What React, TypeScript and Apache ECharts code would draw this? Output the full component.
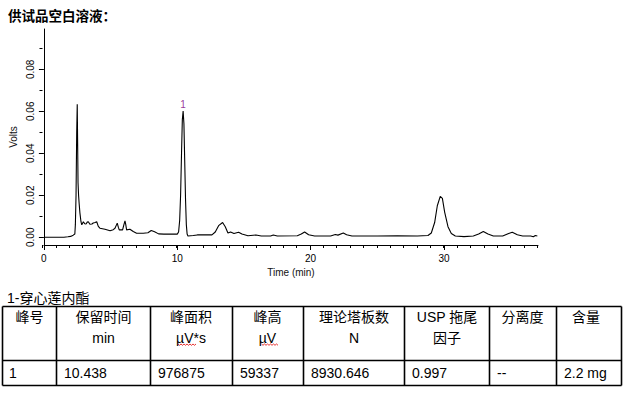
import React, { useEffect, useRef } from "react";
import * as echarts from "echarts";

const chartTitle = "供试品空白溶液：";
const compoundName = "1-穿心莲内酯";

const timeMin = [
  0, 1.5, 1.8, 2.0, 2.2, 2.32, 2.36, 2.41, 2.46, 2.5, 2.53, 2.56, 2.6, 2.64, 2.7, 2.78, 2.84, 2.96, 3.06, 3.16,
  3.25, 3.33, 3.45, 3.6, 3.7, 3.84, 3.96, 4.08, 4.2, 4.58, 4.96, 5.2, 5.33, 5.45, 5.5, 5.58, 5.65, 5.9, 6.0, 6.08,
  6.14, 6.2, 6.45, 6.7, 6.95, 7.45, 7.8, 8.05, 8.3, 8.6, 9.0, 9.5, 10.0, 10.1, 10.18, 10.25, 10.32, 10.38, 10.44,
  10.5, 10.56, 10.62, 10.68, 10.74, 10.8, 11.2, 11.5, 12.0, 12.6, 12.85, 13.1, 13.4, 13.6, 13.8, 14.0, 14.25,
  14.6, 14.85, 15.3, 15.9, 16.3, 17.0, 17.2, 17.5, 19.0, 19.3, 19.55, 19.85, 20.3, 21.5, 21.85, 22.05, 22.45,
  22.7, 23.1, 25.0, 26.5, 28.0, 28.8, 29.05, 29.3, 29.5, 29.72, 29.88, 30.05, 30.3, 30.55, 30.85, 31.5, 32.2,
  32.6, 32.95, 33.3, 33.7, 34.4, 34.85, 35.12, 35.5, 35.9, 36.5, 36.7, 36.85, 37.0,
];
const volts = [
  0, 0, 0.0002, 0.0004, 0.001, 0.0015, 0.006, 0.02, 0.05, 0.0633, 0.045, 0.026, 0.02, 0.0163, 0.0116, 0.0074,
  0.0059, 0.0074, 0.0064, 0.0063, 0.0072, 0.0074, 0.0062, 0.0063, 0.0068, 0.007, 0.0074, 0.0052, 0.0043, 0.0038,
  0.0031, 0.0036, 0.0043, 0.006, 0.0067, 0.0048, 0.0035, 0.0035, 0.006, 0.0078, 0.006, 0.0035, 0.0038, 0.0027,
  0.0019, 0.0019, 0.0021, 0.0032, 0.0026, 0.0016, 0.0015, 0.0015, 0.0015, 0.0025, 0.008, 0.02, 0.04, 0.056,
  0.0601, 0.054, 0.036, 0.018, 0.006, 0.0015, 0.0006, 0.0008, 0.0011, 0.0011, 0.0011, 0.0025, 0.0055, 0.007,
  0.005, 0.002, 0.0025, 0.0018, 0.0024, 0.0015, 0.0007, 0.0011, 0.0006, 0.0006, 0.0011, 0.0006, 0.0007, 0.0015,
  0.0025, 0.0012, 0.0006, 0.0006, 0.0013, 0.001, 0.002, 0.0012, 0.0006, 0.0006, 0.0007, 0.0006, 0.0008, 0.002,
  0.007, 0.015, 0.0195, 0.0185, 0.012, 0.005, 0.0018, 0.0006, 0.0003, 0.0006, 0.0015, 0.0027, 0.0015, 0.0006,
  0.0006, 0.0018, 0.0024, 0.0012, 0.0006, 0.0006, 0.0002, 0.0008, 0.0006,
];

const peakLabels = ["1"];
const peakTimes = [10.438];
const peakHeights = [0.0601];

const xMajorTicks = [0, 10, 20, 30];
const yMajorTicks = [0, 0.02, 0.04, 0.06, 0.08];
const yMinorTicks = [0.01, 0.03, 0.05, 0.07, 0.09];

const headerLine1 = ["峰号", "保留时间", "峰面积", "峰高", "理论塔板数", "USP 拖尾", "分离度", "含量"];
const headerLine2 = ["", "min", "µV*s", "µV", "N", "因子", "", ""];
const rowValues = ["1", "10.438", "976875", "59337", "8930.646", "0.997", "--", "2.2 mg"];

const X_MIN = 0;
const X_MAX = 37.05;
const Y_MIN = -0.0037;
const Y_MAX = 0.0992;

const LATIN = "'Liberation Sans', Arial, 'Noto Sans CJK SC', sans-serif";

export default function App() {
  const ref = useRef<HTMLDivElement>(null);

  useEffect(() => {
    if (!ref.current) return;
    const chart = echarts.init(ref.current, undefined, { renderer: "svg" });

    const xMinorTicks: number[] = [];
    for (let t = 0; t <= 37; t++) xMinorTicks.push(t);

    const colX = [2.5, 56.5, 150.5, 232.5, 303.5, 404.5, 489.5, 556.5, 621.5];
    const tTop = 306.5;
    const tMid = 360.5;
    const tBot = 385.5;
    const lineStyle = { stroke: "#000", lineWidth: 1.6 };
    const graphics: any[] = [];

    graphics.push({
      type: "text",
      style: {
        text: chartTitle,
        x: 8,
        y: 15,
        font: "bold 13.5px 'Noto Sans CJK SC', sans-serif",
        fill: "#000",
        verticalAlign: "middle",
        textVerticalAlign: "middle",
      },
    });
    graphics.push({
      type: "text",
      style: {
        text: compoundName,
        x: 7,
        y: 298,
        font: `14px ${LATIN}`,
        fill: "#000",
        verticalAlign: "middle",
        textVerticalAlign: "middle",
      },
    });
    [tTop, tMid, tBot].forEach((y) =>
      graphics.push({ type: "line", shape: { x1: colX[0], y1: y, x2: colX[colX.length - 1], y2: y }, style: lineStyle })
    );
    colX.forEach((x) =>
      graphics.push({ type: "line", shape: { x1: x, y1: tTop, x2: x, y2: tBot }, style: lineStyle })
    );
    const headerCenters = [29.5, 103.5, 191, 267.5, 354, 447, 522.5, 586];
    headerLine1.forEach((txt, i) => {
      graphics.push({
        type: "text",
        style: {
          text: txt,
          x: headerCenters[i],
          y: 317,
          font: `14px ${LATIN}`,
          fill: "#000",
          align: "center",
          textAlign: "center",
          verticalAlign: "middle",
          textVerticalAlign: "middle",
        },
      });
      if (headerLine2[i]) {
        graphics.push({
          type: "text",
          style: {
            text: headerLine2[i],
            x: headerCenters[i],
            y: 338,
            font: `14px ${LATIN}`,
            fill: "#000",
            align: "center",
            textAlign: "center",
            verticalAlign: "middle",
            textVerticalAlign: "middle",
          },
        });
      }
    });
    rowValues.forEach((txt, i) => {
      graphics.push({
        type: "text",
        style: {
          text: txt,
          x: colX[i] + (i === 0 ? 6.5 : 7.5),
          y: 372.5,
          font: `14px ${LATIN}`,
          fill: "#000",
          verticalAlign: "middle",
          textVerticalAlign: "middle",
        },
      });
    });
    // spell-check squiggles under unit texts
    const squiggle = (x0: number, x1: number, y: number) => {
      const pts: number[][] = [];
      let k = 0;
      for (let x = x0; x <= x1; x += 1.5, k++) pts.push([x, y + (k % 2 === 0 ? 0 : 1.3)]);
      return { type: "polyline", shape: { points: pts }, style: { stroke: "#e00000", lineWidth: 0.8, fill: null } };
    };
    graphics.push(squiggle(178, 197, 344));
    graphics.push(squiggle(261.5, 278.5, 344));

    const gridPos = { left: 42.5, right: 90, top: 29, bottom: 150 };

    chart.setOption({
      animation: false,
      backgroundColor: "#fff",
      grid: [
        { ...gridPos, containLabel: false },
        { ...gridPos, containLabel: false },
      ],
      xAxis: [
        {
          type: "value",
          gridIndex: 0,
          min: X_MIN,
          max: X_MAX,
          axisLine: { show: true, onZero: false, lineStyle: { color: "#000", width: 1 } },
          axisTick: { show: true, customValues: xMajorTicks, length: 5, lineStyle: { color: "#000", width: 1 } },
          axisLabel: {
            customValues: xMajorTicks,
            fontSize: 10,
            color: "#000",
            margin: 8,
            fontFamily: "'Liberation Sans', Arial, sans-serif",
          },
          splitLine: { show: false },
          name: "Time (min)",
          nameLocation: "middle",
          nameGap: 22,
          nameTextStyle: { fontSize: 10, color: "#111", fontFamily: "'Liberation Sans', Arial, sans-serif" },
        },
        {
          type: "value",
          gridIndex: 1,
          min: X_MIN,
          max: X_MAX,
          axisLine: { show: false, onZero: false },
          axisTick: { show: true, customValues: xMinorTicks, length: 3, lineStyle: { color: "#000", width: 1 } },
          axisLabel: { show: false },
          splitLine: { show: false },
        },
      ],
      yAxis: [
        {
          type: "value",
          gridIndex: 0,
          min: Y_MIN,
          max: Y_MAX,
          axisLine: { show: true, onZero: false, lineStyle: { color: "#000", width: 1 } },
          axisTick: { show: true, customValues: yMajorTicks, length: 5, lineStyle: { color: "#000", width: 1 } },
          axisLabel: {
            customValues: yMajorTicks,
            rotate: 90,
            fontSize: 10,
            color: "#000",
            margin: 8,
            fontFamily: "'Liberation Sans', Arial, sans-serif",
            formatter: (v: number) => v.toFixed(2),
          },
          splitLine: { show: false },
          name: "Volts",
          nameLocation: "middle",
          nameRotate: 90,
          nameGap: 22,
          nameTextStyle: { fontSize: 10, color: "#111", fontFamily: "'Liberation Sans', Arial, sans-serif" },
        },
        {
          type: "value",
          gridIndex: 1,
          min: Y_MIN,
          max: Y_MAX,
          axisLine: { show: false, onZero: false },
          axisTick: { show: true, customValues: yMinorTicks, length: 3, lineStyle: { color: "#000", width: 1 } },
          axisLabel: { show: false },
          splitLine: { show: false },
        },
      ],
      series: [
        {
          type: "line",
          xAxisIndex: 0,
          yAxisIndex: 0,
          data: timeMin.map((t, i) => [t, volts[i]]),
          showSymbol: false,
          symbol: "none",
          lineStyle: { color: "#000", width: 1.1 },
          silent: true,
        },
        {
          type: "scatter",
          xAxisIndex: 0,
          yAxisIndex: 0,
          symbolSize: 0,
          data: peakTimes.map((t, i) => ({ value: [t, peakHeights[i]], name: peakLabels[i] })),
          label: {
            show: true,
            position: "top",
            distance: 2,
            formatter: (p: any) => p.name,
            color: "#800080",
            fontSize: 10,
            fontFamily: "'Liberation Sans', Arial, sans-serif",
          },
          silent: true,
        },
      ],
      graphic: graphics,
    });

    return () => chart.dispose();
  }, []);

  return (
    <div
      ref={ref}
      style={{ position: "fixed", left: 0, top: 0, width: 628, height: 395, background: "#fff" }}
    />
  );
}
